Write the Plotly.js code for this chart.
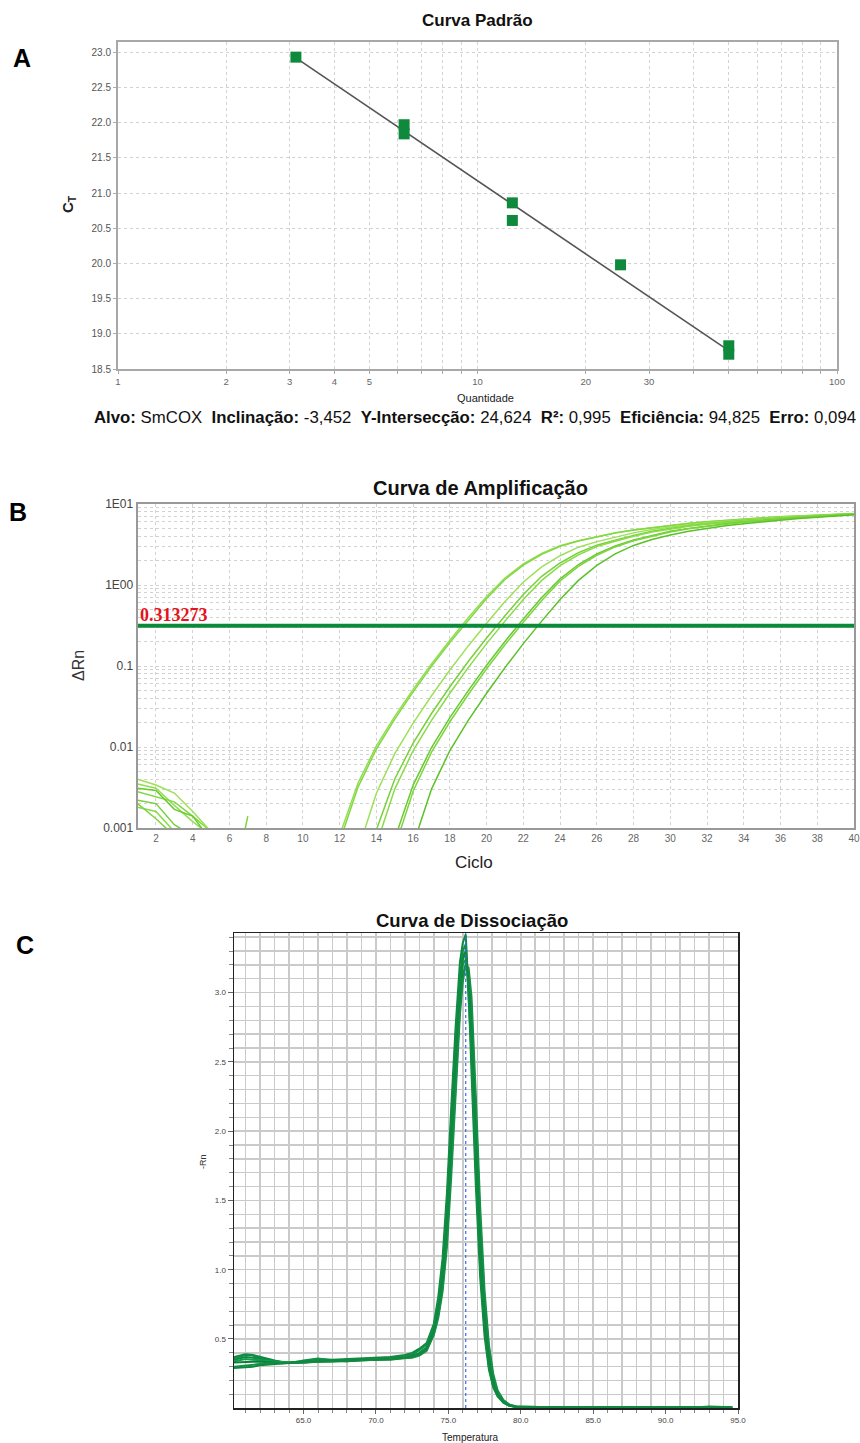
<!DOCTYPE html>
<html><head><meta charset="utf-8">
<script src="https://cdn.plot.ly/plotly-3.0.1.min.js"></script>
<style>html,body{margin:0;padding:0;background:#fff;}#chart{width:860px;height:1443px;}</style>
</head><body><div id="chart"></div>
<script>
// ---------- Panel A : Curva Padrão ----------
const quantidade = [3.125, 6.25, 6.25, 12.5, 12.5, 25, 50, 50];
const ctValues = [22.93, 21.97, 21.84, 20.86, 20.61, 19.98, 18.83, 18.71];
const fitQuantidade = [3.125, 50];
const fitCt = [22.92, 18.76];
const quantTickVals = [1,2,3,4,5,6,7,8,9,10,20,30,40,50,60,70,80,90,100];
const quantTickText = ['1','2','3','4','5','','','','','10','20','30','','','','','','','100'];

// ---------- Panel B : Curva de Amplificação ----------
const ciclos = [1,2,3,4,5,6,7,8,9,10,11,12,13,14,15,16,17,18,19,20,21,22,23,24,25,26,27,28,29,30,31,32,33,34,35,36,37,38,39,40];
const threshold = 0.313273;
const amp1 = [0.0035,0.0031,0.0019,0.0012,0.0008,null,null,null,null,null,0.0002,0.00081,0.00359,0.0103,0.0239,0.0515,0.106,0.208,0.393,0.720,1.22,1.82,2.45,3.05,3.53,3.96,4.41,4.79,5.13,5.48,5.78,6.05,6.31,6.54,6.76,6.97,7.14,7.30,7.47,7.62];
const amp2 = [0.0028,0.0024,0.0021,0.0014,0.0009,null,null,null,null,null,null,0.00068,0.0032,0.00944,0.0221,0.0479,0.0989,0.195,0.369,0.680,1.17,1.76,2.39,3.00,3.49,3.91,4.37,4.76,5.10,5.45,5.75,6.03,6.29,6.51,6.74,6.96,7.12,7.29,7.46,7.60];
const amp3 = [0.0040,0.0034,0.0027,0.0016,0.0009,null,null,null,null,null,null,0.00018,0.00053,0.00269,0.00828,0.0197,0.0429,0.0891,0.177,0.337,0.624,1.09,1.67,2.30,2.93,3.43,3.90,4.40,4.85,5.20,5.55,5.85,6.12,6.38,6.62,6.85,7.04,7.22,7.40,7.56];
const amp4 = [0.0022,0.0020,0.0011,0.0008,null,null,null,null,null,null,null,null,0.00025,0.00095,0.00403,0.0112,0.0259,0.0555,0.1135,0.222,0.418,0.763,1.28,1.87,2.51,3.10,3.57,4.10,4.60,5.00,5.38,5.70,6.00,6.26,6.50,6.73,6.95,7.15,7.35,7.55];
const amp5 = [0.0018,0.0016,0.0009,null,null,null,null,null,null,null,null,null,0.0002,0.000625,0.00302,0.00904,0.0213,0.0461,0.0955,0.189,0.358,0.661,1.14,1.73,2.36,2.98,3.47,4.00,4.50,4.93,5.30,5.63,5.94,6.20,6.45,6.68,6.90,7.12,7.32,7.52];
const amp6 = [0.0031,0.0029,0.0017,0.0014,0.0007,null,null,null,null,null,null,null,null,0.00022,0.00074,0.00339,0.00986,0.023,0.0497,0.102,0.201,0.381,0.700,1.19,1.79,2.42,3.03,3.60,4.10,4.60,5.00,5.36,5.70,6.00,6.27,6.52,6.76,6.98,7.20,7.45];
const amp7 = [0.0020,0.0013,0.0008,null,null,0.00012,0.0014,null,null,null,null,null,null,0.000185,0.000575,0.00285,0.00865,0.0205,0.0445,0.0923,0.183,0.347,0.642,1.12,1.70,2.33,2.95,3.52,4.02,4.52,4.94,5.30,5.64,5.95,6.23,6.48,6.72,6.95,7.17,7.40];
const amp8 = [null,null,null,null,null,null,null,null,null,null,null,null,null,null,0.0002,0.000625,0.00302,0.00904,0.0213,0.0461,0.0955,0.189,0.358,0.661,1.14,1.75,2.42,3.08,3.65,4.15,4.60,5.00,5.38,5.72,6.03,6.32,6.60,6.86,7.10,7.35];
const ampTickVals = [0.001,0.002,0.003,0.004,0.005,0.006,0.007,0.008,0.009,0.01,0.02,0.03,0.04,0.05,0.06,0.07,0.08,0.09,0.1,0.2,0.3,0.4,0.5,0.6,0.7,0.8,0.9,1,2,3,4,5,6,7,8,9,10];
const ampTickText = ['0.001','','','','','','','','','0.01','','','','','','','','','0.1','','','','','','','','','1E00','','','','','','','','','1E01'];
const cycleTickVals = [2,4,6,8,10,12,14,16,18,20,22,24,26,28,30,32,34,36,38,40];

// ---------- Panel C : Curva de Dissociação ----------
const temperatura = [60.2,61.0,61.5,62.0,62.5,63.0,63.5,64.0,65.0,66.0,67.0,68.0,69.0,70.0,71.0,72.0,72.5,73.0,73.5,74.0,74.3,74.6,74.9,75.2,75.5,75.8,76.0,76.2,76.4,76.6,76.9,77.2,77.5,77.8,78.1,78.4,78.8,79.2,79.7,80.5,82.0,84.0,86.0,88.0,90.0,92.0,93.0,94.0,94.6];
const melt1 = [0.37,0.39,0.385,0.37,0.355,0.345,0.335,0.33,0.34,0.355,0.35,0.355,0.36,0.36,0.37,0.385,0.40,0.43,0.47, 0.61,0.80,1.08,1.55,2.17,2.75,3.22,3.36,3.42,3.00,2.42,1.60,0.94,0.52,0.28,0.15,0.085,0.04,0.018,0.01, 0.008,0.007,0.007,0.006,0.006,0.006,0.007,0.006,0.009,0.007];
const melt2 = [0.36,0.385,0.38,0.36,0.35,0.34,0.33,0.325,0.345,0.36,0.345,0.35,0.355,0.365,0.365,0.38,0.39,0.42,0.46, 0.59,0.76,1.02,1.45,2.06,2.68,3.11,3.30,3.35,3.00,2.56,1.72,1.02,0.57,0.30,0.16,0.09,0.042,0.019,0.01, 0.008,0.007,0.006,0.007,0.006,0.007,0.006,0.012,0.007,0.008];
const melt3 = [0.35,0.37,0.365,0.355,0.345,0.335,0.33,0.33,0.335,0.34,0.345,0.35,0.355,0.355,0.36,0.37,0.38,0.40,0.44, 0.56,0.72,0.95,1.35,1.95,2.60,3.05,3.26,3.30,3.05,2.70,1.85,1.10,0.62,0.33,0.17,0.10,0.045,0.02,0.01, 0.008,0.007,0.007,0.006,0.006,0.006,0.006,0.006,0.008,0.006];
const melt4 = [0.34,0.355,0.35,0.345,0.34,0.335,0.33,0.33,0.33,0.34,0.34,0.345,0.35,0.35,0.355,0.365,0.375,0.39,0.43, 0.55,0.69,0.91,1.28,1.85,2.49,2.98,3.20,3.24,3.08,2.79,1.99,1.22,0.70,0.38,0.20,0.11,0.05,0.022,0.011, 0.008,0.007,0.006,0.006,0.007,0.006,0.006,0.007,0.006,0.007];
const melt5 = [0.33,0.335,0.335,0.335,0.335,0.33,0.325,0.325,0.33,0.335,0.34,0.345,0.345,0.35,0.35,0.36,0.37,0.385,0.42, 0.54,0.67,0.87,1.22,1.75,2.38,2.90,3.12,3.20,3.15,2.88,2.13,1.35,0.78,0.43,0.22,0.12,0.056,0.025,0.012, 0.009,0.007,0.007,0.006,0.006,0.006,0.006,0.006,0.007,0.006];
const melt6 = [0.30,0.31,0.315,0.32,0.325,0.325,0.325,0.325,0.33,0.335,0.335,0.34,0.345,0.35,0.355,0.36,0.365,0.38,0.415, 0.53,0.65,0.84,1.16,1.67,2.30,2.84,3.08,3.20,3.18,2.97,2.25,1.45,0.85,0.46,0.25,0.13,0.06,0.028,0.013, 0.009,0.007,0.006,0.006,0.006,0.006,0.006,0.006,0.006,0.006];
const melt7 = [0.29,0.295,0.30,0.31,0.315,0.32,0.325,0.33,0.335,0.34,0.345,0.34,0.35,0.35,0.355,0.365,0.375,0.39,0.43, 0.555,0.71,0.94,1.32,1.91,2.56,3.02,3.24,3.28,3.08,2.74,1.91,1.14,0.65,0.35,0.18,0.105,0.047,0.021,0.011, 0.008,0.007,0.006,0.006,0.006,0.007,0.006,0.006,0.008,0.006];
const tmPico = 76.2;

// ---------- build ----------
const FONT = 'Liberation Sans, Arial, Helvetica, sans-serif';
const W = 860, H = 1443;
const px = v => v / W;
const py = v => 1 - v / H;

const traces = [];
traces.push({x: fitQuantidade, y: fitCt, xaxis:'x', yaxis:'y', mode:'lines', line:{color:'#555555', width:1.6}, hoverinfo:'skip'});
traces.push({x: quantidade, y: ctValues, xaxis:'x', yaxis:'y', mode:'markers', marker:{symbol:'square', size:11, color:'#0f8a3c'}, hoverinfo:'skip'});

const ampSeries = [amp1, amp2, amp3, amp4, amp5, amp6, amp7, amp8];
const ampColors = ['#92de50','#82d842','#9ce158','#76d13a','#8adb48','#66ca30','#7ed440','#5ac228'];
ampSeries.forEach((s, i) => traces.push({x: ciclos, y: s, xaxis:'x2', yaxis:'y2', mode:'lines', connectgaps:false, line:{color: ampColors[i], width:1.5}, hoverinfo:'skip'}));
traces.push({x: [ciclos[0], ciclos[ciclos.length-1]], y: [threshold, threshold], xaxis:'x2', yaxis:'y2', mode:'lines', line:{color:'#0b8a3a', width:4}, hoverinfo:'skip'});

const meltSeries = [melt1, melt2, melt3, melt4, melt5, melt6, melt7];
const meltColors = ['#0b8a3e','#10904a','#0e8a3f','#179a4d','#0a7f38','#14924a','#12883f'];
meltSeries.forEach((s, i) => traces.push({x: temperatura, y: s, xaxis:'x3', yaxis:'y3', mode:'lines', line:{color: meltColors[i], width:2}, hoverinfo:'skip'}));

const dotAxis = {
  showgrid:true, gridcolor:'#d2d2d2', griddash:'dot', gridwidth:1,
  showline:true, linecolor:'#a8a8a8', linewidth:2, mirror:true,
  zeroline:false, automargin:false, ticks:'outside', ticklen:3, tickcolor:'#aaa'
};

function note(text, x, y, size, opts) {
  return Object.assign({text:text, x:px(x), y:py(y), xref:'paper', yref:'paper', xanchor:'center', yanchor:'middle',
    showarrow:false, font:{size:size, color:'#111', family:FONT}}, opts || {});
}

const layout = {
  width: W, height: H,
  margin: {l:0, r:0, t:0, b:0},
  paper_bgcolor:'#ffffff', plot_bgcolor:'#ffffff',
  showlegend:false, hovermode:false,
  font: {family: FONT, color:'#333'},
  xaxis: Object.assign({}, dotAxis, {domain:[px(118), px(837)], anchor:'y', type:'log', range:[0, 2],
    tickmode:'array', tickvals: quantTickVals, ticktext: quantTickText, tickfont:{size:9.5, color:'#666'}}),
  yaxis: Object.assign({}, dotAxis, {domain:[py(369), py(42)], anchor:'x', range:[18.5, 23.145],
    tick0:18.5, dtick:0.5, tickformat:'.1f', tickfont:{size:10, color:'#555'}}),
  xaxis2: Object.assign({}, dotAxis, {domain:[px(137.6), px(854)], anchor:'y2', range:[1, 40],
    tickmode:'array', tickvals: cycleTickVals, tickfont:{size:10, color:'#666'}, ticks:'', linecolor:'#999'}),
  yaxis2: Object.assign({}, dotAxis, {domain:[py(828), py(504)], anchor:'x2', type:'log', range:[-3, 1],
    tickmode:'array', tickvals: ampTickVals, ticktext: ampTickText, tickfont:{size:12, color:'#444'}, ticks:'', linecolor:'#999'}),
  xaxis3: {domain:[px(234), px(738)], anchor:'y3', range:[60.2, 95], tick0:65, dtick:5, tickformat:'.1f',
    showgrid:true, gridcolor:'#cacaca', gridwidth:1.5, showline:true, linecolor:'#222', linewidth:1.5, mirror:true,
    ticks:'outside', ticklen:4, tickcolor:'#666', tickfont:{size:8, color:'#444'}, zeroline:false, automargin:false,
    minor:{tick0:60, dtick:1, showgrid:true, gridcolor:'#cacaca', gridwidth:1.5, ticks:'outside', ticklen:3, tickcolor:'#888'}},
  yaxis3: {domain:[py(1408), py(933)], anchor:'x3', range:[0.002, 3.43], tick0:0.5, dtick:0.5, tickformat:'.1f',
    showgrid:true, gridcolor:'#cacaca', gridwidth:1.5, showline:true, linecolor:'#222', linewidth:1.5, mirror:true,
    ticks:'outside', ticklen:5, tickcolor:'#666', tickfont:{size:8, color:'#444'}, zeroline:false, automargin:false,
    minor:{tick0:0, dtick:0.1, showgrid:true, gridcolor:'#cacaca', gridwidth:1.5, ticks:'outside', ticklen:4, tickcolor:'#888'}},
  shapes: [
    {type:'line', xref:'x3', yref:'y3 domain', x0:tmPico, x1:tmPico, y0:0, y1:1, line:{color:'#3b6cf0', width:1.2, dash:'dot'}}
  ],
  annotations: [
    note('<b>A</b>', 22, 58, 25, {font:{size:25, color:'#000', family:FONT}}),
    note('<b>B</b>', 18, 512, 25, {font:{size:25, color:'#000', family:FONT}}),
    note('<b>C</b>', 25, 945, 25, {font:{size:25, color:'#000', family:FONT}}),
    note('<b>Curva Padrão</b>', 477, 20, 17),
    note('Quantidade', 485, 398, 11, {font:{size:11, color:'#222', family:FONT}}),
    note('<b>C<sub>T</sub></b>', 68, 204, 15, {textangle:-90, font:{size:15, color:'#222', family:FONT}}),
    note('<b>Alvo:</b> SmCOX &nbsp;<b>Inclinação:</b> -3,452 &nbsp;<b>Y-Intersecção:</b> 24,624 &nbsp;<b>R²:</b> 0,995 &nbsp;<b>Eficiência:</b> 94,825 &nbsp;<b>Erro:</b> 0,094', 475, 418, 16.8),
    note('<b>Curva de Amplificação</b>', 480, 488, 20),
    note('Ciclo', 474, 862, 17, {font:{size:17, color:'#222', family:FONT}}),
    note('ΔRn', 78, 666, 16, {textangle:-90, font:{size:16, color:'#333', family:FONT}}),
    {text:'<b>' + threshold.toFixed(6) + '</b>', x:0, xref:'x2 domain', xanchor:'left', y:Math.log10(threshold), yref:'y2', yanchor:'bottom', yshift:-1, showarrow:false,
      font:{size:18, color:'#e3141c', family:'Liberation Serif, Times New Roman, serif'}},
    note('<b>Curva de Dissociação</b>', 472, 920, 18.5),
    note('Temperatura', 470, 1437, 10, {font:{size:10, color:'#222', family:FONT}}),
    note('-Rn', 203, 1162, 9, {textangle:-90, font:{size:9, color:'#333', family:FONT}})
  ]
};

Plotly.newPlot('chart', traces, layout, {displayModeBar:false, staticPlot:true});
</script>
</body></html>
